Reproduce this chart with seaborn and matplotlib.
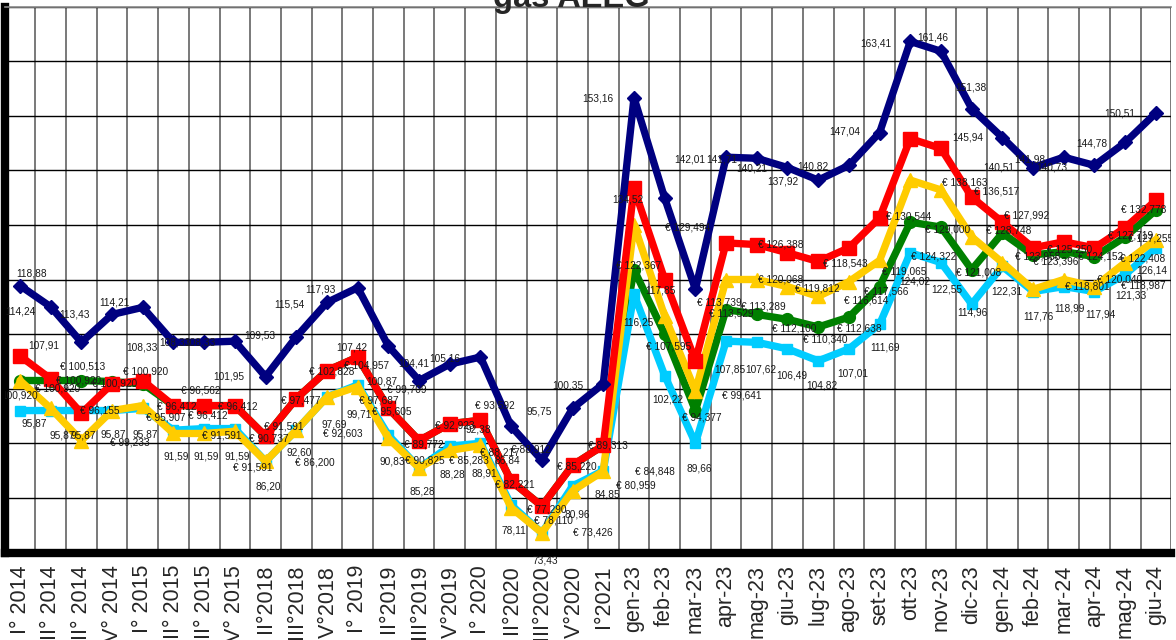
import numpy as np
import matplotlib
matplotlib.use("Agg")
import matplotlib.pyplot as plt
import seaborn as sns

# DATA
CATEGORIES = ["I° 2014", "II° 2014", "III° 2014", "IV° 2014",
              "I° 2015", "II° 2015", "III° 2015", "IV° 2015",
              "II°2018", "III°2018", "IV°2018",
              "I° 2019", "II°2019", "III°2019", "IV°2019",
              "I° 2020", "II°2020", "III°2020", "IV°2020", "I°2021",
              "gen-23", "feb-23", "mar-23", "apr-23", "mag-23", "giu-23",
              "lug-23", "ago-23", "set-23", "ott-23", "nov-23", "dic-23",
              "gen-24", "feb-24", "mar-24", "apr-24", "mag-24", "giu-24"]

NAVY = [118.88, 115.0, 108.5, 113.6, 114.9, 108.5, 108.5, 108.7, 102.2, 109.5,
        115.8, 118.5, 107.8, 101.5, 104.5, 105.8, 93.1, 86.9, 96.4, 100.9,
        153.3, 134.9, 118.2, 142.4, 142.2, 140.5, 138.2, 140.9, 146.9, 163.6,
        161.8, 151.3, 146.0, 140.5, 142.4, 140.9, 145.1, 150.5]
RED = [106.0, 101.8, 95.5, 100.9, 101.5, 96.9, 96.9, 96.9, 91.3, 98.2,
       103.3, 105.8, 96.4, 90.5, 93.6, 94.2, 83.1, 78.5, 86.0, 89.6,
       136.7, 120.0, 105.1, 126.7, 126.4, 124.9, 123.3, 125.8, 131.3, 145.8,
       144.0, 135.1, 130.5, 125.8, 126.9, 125.8, 129.5, 134.5]
GREEN = [101.5, 101.5, 101.5, 101.3, 100.9, 96.9, 96.9, 96.9, 91.3, 98.2,
         103.3, 105.8, 96.4, 90.5, 93.6, 94.2, 83.1, 78.5, 86.0, 89.6,
         121.8, 110.0, 96.0, 114.5, 113.6, 112.7, 111.3, 113.1, 118.7, 130.5,
         129.6, 121.8, 128.5, 124.5, 125.1, 124.2, 127.8, 132.7]
YELLOW = [101.5, 96.4, 90.5, 96.0, 96.9, 91.8, 91.8, 92.2, 86.7, 92.4,
          98.5, 100.4, 90.9, 85.5, 88.7, 89.6, 78.2, 73.6, 81.3, 84.9,
          130.0, 113.3, 99.6, 120.0, 120.0, 118.7, 116.9, 119.6, 123.5, 138.2,
          136.4, 127.8, 123.1, 118.2, 120.0, 118.7, 123.1, 127.3]
CYAN = [96.0, 96.0, 96.0, 96.0, 96.4, 92.4, 92.7, 92.7, 86.7, 92.4,
        98.5, 100.7, 91.5, 85.5, 89.5, 90.0, 78.7, 73.6, 82.2, 85.0,
        117.3, 102.4, 90.0, 108.7, 108.5, 107.3, 105.1, 107.3, 111.8, 124.9,
        123.1, 115.5, 122.4, 117.8, 118.7, 117.8, 120.9, 125.8]

# data labels as they sit on the chart: (category position, value position, text)
LABELS = [
    (0.39, 121.1, "118,88"), (1.79, 113.5, "113,43"), (3.06, 115.8, "114,21"),
    (8.79, 115.5, "115,54"), (9.80, 118.2, "117,93"), (0.78, 108.0, "107,91"),
    (2.05, 104.0, "€ 100,513"), (1.92, 101.5, "€ 100,920"), (1.21, 100.0, "€ 100,920"),
    (0.0, 98.7, "100,920"), (0.46, 93.6, "95,87"), (1.37, 91.5, "95,87"),
    (2.05, 91.5, "95,87"), (2.61, 96.0, "€ 96,155"), (3.97, 107.6, "108,33"),
    (5.05, 108.5, "108,33"), (5.86, 108.5, "108,33"), (4.10, 103.1, "€ 100,920"),
    (3.09, 100.9, "€ 100,920"), (4.76, 94.7, "€ 95,907"), (3.03, 91.6, "95,87"),
    (4.07, 91.6, "95,87"), (3.58, 90.2, "€ 99,233"), (5.90, 99.6, "€ 96,562"),
    (5.11, 96.7, "€ 96,412"), (6.12, 95.1, "€ 96,412"), (7.10, 96.7, "€ 96,412"),
    (6.58, 91.5, "€ 91,591"), (5.08, 87.5, "91,59"), (6.06, 87.5, "91,59"),
    (7.07, 87.5, "91,59"), (6.81, 102.2, "101,95"), (7.82, 109.8, "109,53"),
    (7.59, 85.5, "€ 91,591"), (8.08, 82.0, "86,20"), (8.11, 90.9, "€ 90,737"),
    (8.60, 93.1, "€ 91,591"), (9.15, 97.8, "€ 97,477"), (9.09, 88.4, "92,60"),
    (9.61, 86.5, "€ 86,200"), (10.16, 103.1, "€ 102,828"), (10.23, 93.5, "97,69"),
    (10.52, 91.8, "€ 92,603"), (10.81, 107.6, "107,42"), (11.30, 104.2, "€ 104,957"),
    (11.79, 101.3, "100,87"), (11.69, 97.8, "€ 97,687"), (11.04, 95.3, "99,71"),
    (12.12, 95.8, "€ 95,605"), (12.12, 86.7, "90,83"), (13.19, 86.9, "€ 90,825"),
    (12.61, 99.8, "€ 99,709"), (13.16, 89.8, "€ 89,772"), (13.09, 81.1, "85,28"),
    (12.83, 104.7, "104,41"), (13.84, 105.5, "105,16"), (14.17, 93.3, "€ 92,923"),
    (14.92, 92.5, "92,38"), (14.63, 86.9, "€ 85,283"), (14.07, 84.2, "88,28"),
    (15.11, 84.5, "88,91"), (15.47, 96.9, "€ 93,592"), (15.64, 88.4, "€ 88,217"),
    (15.86, 86.9, "86,84"), (16.12, 82.5, "€ 82,221"), (16.64, 88.9, "€ 88,912"),
    (16.91, 95.8, "95,75"), (17.85, 100.5, "100,35"), (17.17, 77.8, "€ 77,290"),
    (17.36, 75.8, "€ 78,110"), (16.09, 74.0, "78,11"), (18.14, 76.9, "80,96"),
    (18.66, 73.6, "€ 73,426"), (18.14, 85.8, "€ 85,220"),
    (19.15, 89.6, "€ 89,313"), (19.12, 80.7, "84,85"), (20.07, 82.2, "€ 80,959"),
    (20.68, 84.9, "€ 84,848"), (21.11, 98.0, "102,22"), (22.21, 94.7, "€ 94,377"),
    (22.12, 85.3, "89,66"), (23.52, 98.7, "€ 99,641"), (23.13, 103.5, "107,85"),
    (24.14, 103.5, "107,62"), (25.15, 102.4, "106,49"), (26.12, 100.5, "104,82"),
    (27.13, 102.7, "107,01"), (20.13, 112.2, "116,25"), (21.14, 107.8, "€ 107,595"),
    (22.77, 115.8, "€ 113,739"), (23.16, 113.8, "€ 113,529"), (24.20, 115.1, "€ 113,289"),
    (25.21, 111.1, "€ 112,100"), (26.22, 109.1, "€ 110,340"), (27.33, 111.1, "€ 112,638"),
    (20.16, 122.5, "€ 122,367"), (20.85, 118.0, "117,85"), (19.80, 134.7, "134,52"),
    (18.83, 153.1, "153,16"), (21.73, 129.5, "€ 129,494"), (21.82, 142.0, "142,01"),
    (22.87, 142.0, "141,71"), (23.84, 140.4, "140,21"), (24.85, 138.0, "137,92"),
    (25.83, 140.7, "140,82"), (26.87, 147.1, "147,04"), (24.79, 126.5, "€ 126,388"),
    (26.87, 122.9, "€ 118,543"), (24.79, 120.0, "€ 120,068"), (25.96, 118.4, "€ 119,812"),
    (27.56, 116.2, "€ 116,614"), (28.21, 117.8, "€ 117,566"), (28.79, 121.5, "€ 119,065"),
    (28.18, 107.6, "111,69"), (29.15, 119.6, "124,02"), (29.77, 124.2, "€ 124,322"),
    (30.20, 118.2, "122,55"), (31.24, 121.3, "€ 121,008"), (31.01, 114.0, "114,96"),
    (32.15, 117.8, "122,31"), (33.16, 124.2, "€ 123,958"), (33.75, 123.3, "€ 123,396"),
    (34.20, 125.5, "€ 125,250"), (35.21, 124.2, "€ 124,152"), (36.16, 128.0, "€ 127,719"),
    (36.81, 127.6, "€ 127,255"), (36.58, 123.8, "€ 122,408"), (36.87, 121.6, "126,14"),
    (35.83, 120.0, "€ 120,040"), (36.58, 118.9, "€ 118,987"), (36.19, 117.1, "121,33"),
    (33.16, 113.3, "117,76"), (34.20, 114.7, "118,99"), (35.18, 113.6, "117,94"),
    (34.76, 118.7, "€ 118,801"), (28.96, 131.5, "€ 130,544"), (30.20, 129.1, "€ 129,000"),
    (30.78, 137.8, "€ 138,163"), (31.82, 136.2, "€ 136,517"), (32.80, 131.8, "€ 127,992"),
    (32.21, 128.9, "€ 128,748"), (36.61, 132.9, "€ 132,778"), (27.88, 163.3, "163,41"),
    (29.74, 164.4, "161,46"), (30.98, 155.1, "151,38"), (30.88, 146.0, "145,94"),
    (31.89, 140.5, "140,51"), (32.90, 142.0, "141,98"), (33.62, 140.5, "140,73"),
    (34.92, 144.9, "144,78"), (35.83, 150.4, "150,51"),
]
LEFT_LABEL = (0.52, 114.2, "114,24")
BELOW_LABEL = (17.10, 69.4, "73,43")

# STYLE (drawing order: first is bottom)
STYLES = [
    (GREEN,  "#008000", "o", 8.5),
    (CYAN,   "#00CCFF", "s", 7.0),
    (YELLOW, "#FFCC00", "^", 10.0),
    (RED,    "#FF0000", "s", 9.5),
    (NAVY,   "#000080", "D", 7.5),
]

sns.set_style("white")
plt.rcParams["font.family"] = ["Liberation Sans", "DejaVu Sans"]

fig = plt.figure(figsize=(11.76, 6.4), dpi=100)
ax = fig.add_axes([4.65 / 1176, 1 - 552.5 / 640, 38 * 30.7 / 1176, 546 / 640])

x = np.arange(len(CATEGORIES))
for z, (vals, color, marker, ms) in enumerate(STYLES):
    sns.lineplot(x=x, y=vals, ax=ax, color=color, linewidth=5.3, marker=marker,
                 markersize=ms, markeredgecolor=color, markeredgewidth=1,
                 zorder=3 + z)

for lx, ly, txt in LABELS:
    ax.text(lx, ly, txt, fontsize=7.3, color="#1a1a1a", ha="center",
            va="center", zorder=20, clip_on=True)
ax.text(LEFT_LABEL[0], LEFT_LABEL[1], LEFT_LABEL[2], fontsize=7.3,
        color="#1a1a1a", ha="right", va="center", zorder=20, clip_on=True)
ax.text(BELOW_LABEL[0], BELOW_LABEL[1], BELOW_LABEL[2], fontsize=7.3,
        color="#1a1a1a", ha="center", va="top", zorder=20, clip_on=False)

ax.set_xlim(-0.5, 37.5)
ax.set_ylim(70, 170)
ax.set_yticks(np.arange(70, 171, 10))
ax.tick_params(axis="y", left=False, labelleft=False)
ax.set_xticks(x)
ax.set_xticklabels(CATEGORIES, rotation=90, fontsize=15.5)
ax.set_xticks(np.arange(-0.5, 38, 1), minor=True)
ax.tick_params(axis="x", which="major", length=0, pad=9)
ax.tick_params(axis="x", which="minor", length=4.5, width=2.5,
               direction="out", color="black")
ax.grid(axis="y", which="major", color="black", linewidth=1.0)
ax.grid(axis="x", which="minor", color="#555555", linewidth=1.1)
ax.set_axisbelow(True)
ax.set_xlabel("")
ax.set_ylabel("")

for side in ["left", "bottom"]:
    ax.spines[side].set_linewidth(6)
    ax.spines[side].set_color("black")
ax.spines["top"].set_color("#888888")
ax.spines["top"].set_linewidth(1.2)
ax.spines["right"].set_visible(False)

fig.text(571 / 1176, 1 - 7 / 640, "gas AEEG", fontsize=23.5, fontweight="bold",
         ha="center", va="baseline")

fig.savefig("out.png", dpi=100)
